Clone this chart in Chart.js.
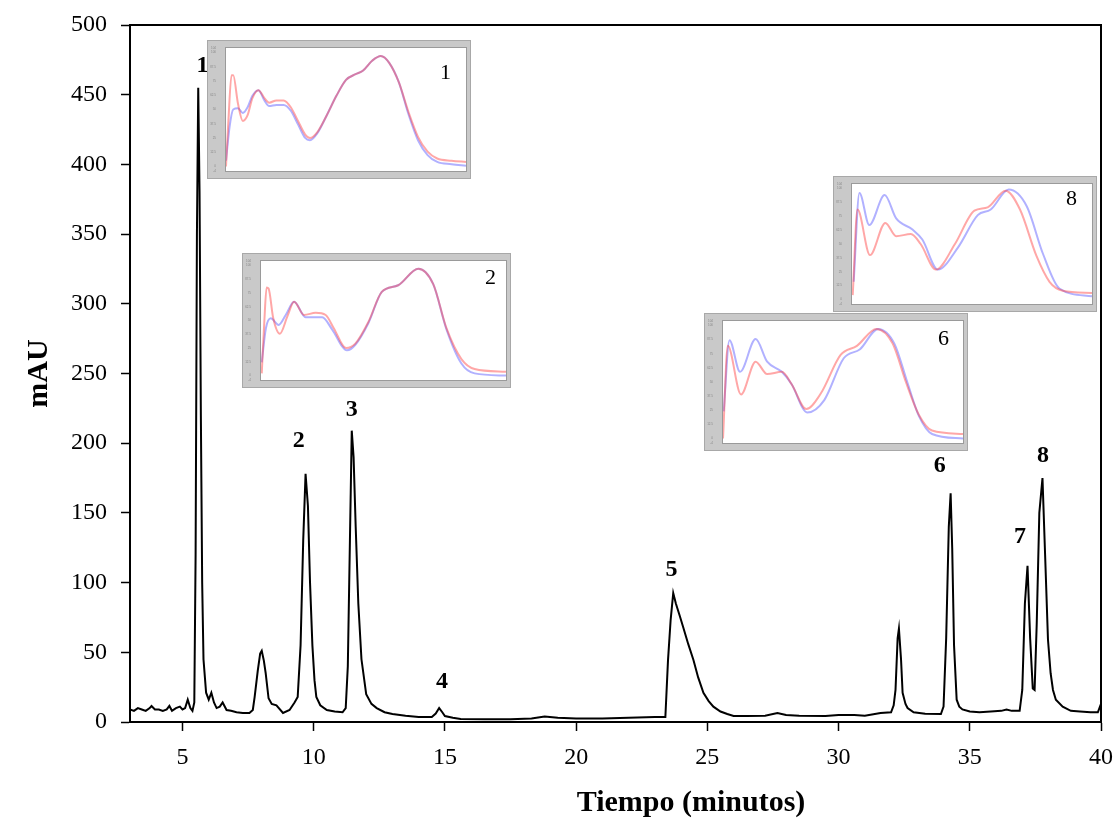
<!DOCTYPE html>
<html>
<head>
<meta charset="utf-8">
<script src="https://cdn.jsdelivr.net/npm/chart.js@4.4.0/dist/chart.umd.min.js"></script>
<style>
body{margin:0;background:#fff;}
#wrap{position:relative;width:1117px;height:827px;}
.inset{position:absolute;border:1px solid #a8a8a8;box-sizing:border-box;}
.inset span{position:absolute;font-family:'Liberation Serif',serif;font-size:22px;color:#000;line-height:1;}
</style>
</head>
<body>
<div id="wrap">
  <canvas id="chromo" width="1117" height="827"></canvas>
  <div class="inset" style="left:207px;top:40px;width:264px;height:139px"><canvas id="ins1" width="262" height="137"></canvas><span style="left:232px;top:20px">1</span></div>
  <div class="inset" style="left:242px;top:253px;width:269px;height:135px"><canvas id="ins2" width="267" height="133"></canvas><span style="left:242px;top:12px">2</span></div>
  <div class="inset" style="left:704px;top:313px;width:264px;height:138px"><canvas id="ins6" width="262" height="136"></canvas><span style="left:233px;top:13px">6</span></div>
  <div class="inset" style="left:833px;top:176px;width:264px;height:136px"><canvas id="ins8" width="262" height="134"></canvas><span style="left:232px;top:10px">8</span></div>
</div>
<script>
// chromatogram: [minutes, mAU]
var chromatogram = [[3.0,9],[3.15,8],[3.3,10],[3.45,9],[3.6,8],[3.75,10],[3.82,11.5],[3.95,9],[4.1,9],[4.25,8],[4.4,9],[4.5,11.5],[4.6,8],[4.75,10],[4.9,11],[5.0,9],[5.1,10],[5.2,16],[5.3,10],[5.38,8],[5.45,14],
[5.5,120],[5.55,350],[5.6,455],[5.65,380],[5.7,220],[5.75,100],[5.8,45],[5.9,21],[6.0,16],[6.1,21],[6.2,14],[6.3,10],[6.42,11],[6.53,14],[6.68,8.6],[6.85,8],[7.06,7],[7.3,6.5],[7.55,6.5],
[7.68,8.6],[7.75,18],[7.87,37],[7.96,49],[8.02,51],[8.1,44],[8.17,35],[8.28,17],[8.4,13],[8.58,12],[8.83,6.5],[9.08,8.6],[9.27,14],[9.39,18],[9.5,55],[9.6,130],[9.69,178],[9.78,155],[9.86,100],
[9.95,55],[10.03,30],[10.1,18],[10.25,12],[10.5,8.6],[10.8,7.5],[11.1,7],[11.22,10],[11.3,40],[11.38,130],[11.45,209],[11.52,190],[11.6,140],[11.7,85],[11.82,45],[12.0,20],[12.2,13],[12.4,10],
[12.7,7],[13.0,5.7],[13.5,4.5],[14.0,3.6],[14.5,3.6],[14.65,6],[14.78,10],[14.9,7],[15.0,4.3],[15.3,3],[15.6,2.2],[16.5,2],[17.5,2],[18.3,2.5],[18.8,4],[19.3,3],[20.0,2.5],[21.0,2.5],[22.0,3],
[23.0,3.5],[23.4,3.6],[23.5,44],[23.6,73],[23.7,92.5],[23.8,85],[23.95,76],[24.08,68],[24.27,56],[24.47,44.5],[24.65,32],[24.85,21],[25.05,15],[25.23,11],[25.5,7.5],[25.76,5.7],[26.0,4.3],
[26.5,4.3],[27.2,4.5],[27.67,6.5],[28.0,5],[28.5,4.5],[29.5,4.3],[30.0,5],[30.6,5],[31.0,4.5],[31.6,6.5],[32.0,7],[32.1,12],[32.17,23],[32.25,60],[32.3,67],[32.38,45],[32.44,21],[32.55,13],
[32.63,10],[32.86,7],[33.3,6],[33.9,5.7],[34.0,11],[34.1,60],[34.2,140],[34.27,164],[34.33,125],[34.4,55],[34.5,16],[34.6,11],[34.72,9],[35.0,7.5],[35.37,7],[35.8,7.5],[36.2,8],[36.4,9],
[36.6,8],[36.9,8],[37.0,23],[37.1,85],[37.2,112],[37.3,60],[37.4,24],[37.47,23],[37.55,70],[37.65,150],[37.77,175],[37.87,120],[37.98,59],[38.08,35],[38.17,23],[38.28,16],[38.54,11],
[38.85,8],[39.2,7.5],[39.6,7],[39.88,7],[40.0,13]]

var xTicks = [5,10,15,20,25,30,35,40]
var yTicks = [0,50,100,150,200,250,300,350,400,450,500]

var peakLabels = ['1','2','3','4','5','6','7','8']
var peakLabelTime = [5.76,9.43,11.45,14.89,23.63,33.86,36.91,37.79]
var peakLabelAbs = [471,202,224,29,109,184,133,191]

// UV spectra in the insets (x = relative wavelength 0-100, y = relative absorbance)
var spec1Red = [[0,0],[1,40],[2.3,80],[3,80],[5,55],[7,40],[9,45],[11,60],[13.5,67],[16,60],[18,56],[21,58],[24,58],[27,52],[30,40],[33,28],[35,25],[38,30],[42,45],[46,62],[50,76],[54,81],[57,84],[61,93],[64.5,97],[68,91],[72,74],[76,48],[80,26],[84,13],[88,7],[94,5],[100,4]]
var spec1Blue = [[0,5],[1.5,35],[3,50],[5,51],[7,47],[9,52],[11,62],[13.5,67],[16,58],[18,53],[21,54],[24,54],[27,49],[30,37],[33,25],[35,23],[38,29],[42,45],[46,62],[50,76],[54,81],[57,84],[61,93],[64.5,97],[68,91],[72,74],[76,46],[80,23],[84,10],[88,4],[94,2],[100,0.5]]
var spec2Red = [[0.3,2],[1.35,49],[2.3,80],[3.1,79],[5,52],[7.7,38],[10.8,54],[13.5,67],[17.6,55],[22.3,57],[26.4,55],[29.7,43],[34.7,25],[38.5,29],[43.9,49],[49.3,76],[56,82],[64.2,97],[70.3,83],[75.7,43],[81.8,15],[87.2,6],[100,3.5]]
var spec2Blue = [[0.3,12],[2,43],[4,52],[7.2,46],[10.1,55],[13.5,67],[18.2,53],[25,53],[29,42],[35.1,23],[38.5,28],[43.9,48],[49.3,76],[56,82],[64.2,97],[70.3,83],[75.7,42],[81.8,11],[87.2,2],[100,0]]
var spec6Red = [[0,0],[2,82],[7.5,39],[13.6,68],[18.4,57],[24.5,59],[28.6,48],[34.7,26],[40.8,40],[49,74],[55.8,82],[63.9,97],[70.7,84],[76.2,50],[81.6,21],[87.1,7],[100,4]]
var spec6Blue = [[0.3,24],[2.7,87],[7.1,59],[13.6,88],[18.4,68],[24.5,59],[28.6,48],[35.1,23],[42.2,34],[50.3,71],[57.1,79],[64.6,97],[71.4,84],[76.9,49],[81.6,20],[87.1,4],[100,0]]
var spec8Red = [[0.3,4],[2.3,81],[7.5,40],[13.9,69],[18.4,57],[24.5,59],[28.6,50],[35,27],[42.9,50],[51,80],[56.5,83],[64,98],[70,81],[76.9,39],[82.3,16],[87.8,8],[100,6]]
var spec8Blue = [[0.7,16],[3.1,96],[7.2,67],[13.6,94],[18.4,73],[25.2,63],[29.3,54],[35.8,27],[44.2,47],[52.4,76],[57.8,81],[65.3,99],[72.8,84],[79.6,41],[86.4,10],[100,3]]

var serif = "'Liberation Serif', 'Times New Roman', serif"

function toXY(arr){
  return arr.map(function(p){ return {x:p[0], y:p[1]} })
}

// no extra room for overhanging tick labels, the frame sits where the padding says
function noPad(s){
  s.paddingLeft = 0; s.paddingRight = 0; s.paddingTop = 0; s.paddingBottom = 0
}

// top and right border of the frame + peak numbers + axis titles
var framePlugin = {
  id:'frame',
  afterDraw:function(chart){
    var c = chart.ctx, a = chart.chartArea
    var xs = chart.scales.x, ys = chart.scales.y
    c.save()
    c.strokeStyle = '#000'
    c.lineWidth = 2
    c.beginPath()
    c.moveTo(a.left, a.top)
    c.lineTo(a.right, a.top)
    c.lineTo(a.right, a.bottom)
    c.stroke()

    c.fillStyle = '#000'
    c.font = 'bold 24px ' + serif
    c.textAlign = 'center'
    c.textBaseline = 'middle'
    for(var i=0;i<peakLabels.length;i++){
      c.fillText(peakLabels[i], xs.getPixelForValue(peakLabelTime[i]), ys.getPixelForValue(peakLabelAbs[i]))
    }

    c.font = 'bold 30px ' + serif
    c.fillText('Tiempo (minutos)', 691, 803)
    c.translate(39, (a.top + a.bottom)/2)
    c.rotate(-Math.PI/2)
    c.fillText('mAU', 0, 0)
    c.restore()
  }
}

new Chart(document.getElementById('chromo'), {
  type:'line',
  data:{
    datasets:[{
      data: toXY(chromatogram),
      borderColor:'#000',
      borderWidth:2,
      pointRadius:0,
      tension:0,
      fill:false
    }]
  },
  options:{
    responsive:false,
    animation:false,
    devicePixelRatio:1,
    layout:{padding:{top:25,right:16,left:0,bottom:0}},
    plugins:{legend:{display:false},tooltip:{enabled:false}},
    scales:{
      x:{
        type:'linear', min:3, max:40,
        afterBuildTicks:function(s){ s.ticks = xTicks.map(function(v){return {value:v}}) },
        afterFit:function(s){ s.height = 105; noPad(s) },
        grid:{display:true, drawOnChartArea:false, tickLength:9, tickColor:'#000', tickWidth:1.5},
        border:{display:true, color:'#000', width:2},
        ticks:{color:'#000', font:{family:serif, size:24}, padding:12, maxRotation:0}
      },
      y:{
        min:0, max:500,
        afterBuildTicks:function(s){ s.ticks = yTicks.map(function(v){return {value:v}}) },
        afterFit:function(s){ s.width = 130; noPad(s) },
        grid:{display:true, drawOnChartArea:false, tickLength:9, tickColor:'#000', tickWidth:1.5},
        border:{display:true, color:'#000', width:2},
        ticks:{color:'#000', font:{family:serif, size:24}, padding:14}
      }
    }
  },
  plugins:[framePlugin]
})

// gray frame around the small spectrum plots
var insetBg = {
  id:'insetBg',
  beforeDraw:function(chart){
    var c = chart.ctx, a = chart.chartArea
    c.save()
    c.fillStyle = '#c9c9c9'
    c.fillRect(0, 0, chart.width, chart.height)
    c.fillStyle = '#fff'
    c.fillRect(a.left, a.top, a.right - a.left, a.bottom - a.top)
    c.strokeStyle = '#9a9a9a'
    c.lineWidth = 1
    c.strokeRect(a.left - 0.5, a.top - 0.5, a.right - a.left + 1, a.bottom - a.top + 1)
    c.restore()
  }
}

function makeInset(id, red, blue){
  new Chart(document.getElementById(id), {
    type:'line',
    data:{
      datasets:[
        {data:toXY(red), borderColor:'rgba(255,60,60,0.45)', borderWidth:2, pointRadius:0, cubicInterpolationMode:'monotone'},
        {data:toXY(blue), borderColor:'rgba(60,60,255,0.4)', borderWidth:2, pointRadius:0, cubicInterpolationMode:'monotone'}
      ]
    },
    options:{
      responsive:false,
      animation:false,
      devicePixelRatio:1,
      layout:{padding:{top:7,right:4,left:0,bottom:0}},
      plugins:{legend:{display:false},tooltip:{enabled:false}},
      scales:{
        x:{
          type:'linear', min:0, max:100,
          afterFit:function(s){ s.height = 7; noPad(s) },
          grid:{display:false}, border:{display:false},
          ticks:{color:'#888', font:{size:3}, padding:0, stepSize:12.5, maxRotation:0}
        },
        y:{
          min:-4, max:104,
          afterFit:function(s){ s.width = 18; noPad(s) },
          grid:{display:false}, border:{display:false},
          ticks:{color:'#888', font:{size:3}, padding:2, stepSize:12.5}
        }
      }
    },
    plugins:[insetBg]
  })
}

makeInset('ins1', spec1Red, spec1Blue)
makeInset('ins2', spec2Red, spec2Blue)
makeInset('ins6', spec6Red, spec6Blue)
makeInset('ins8', spec8Red, spec8Blue)
</script>
</body>
</html>
